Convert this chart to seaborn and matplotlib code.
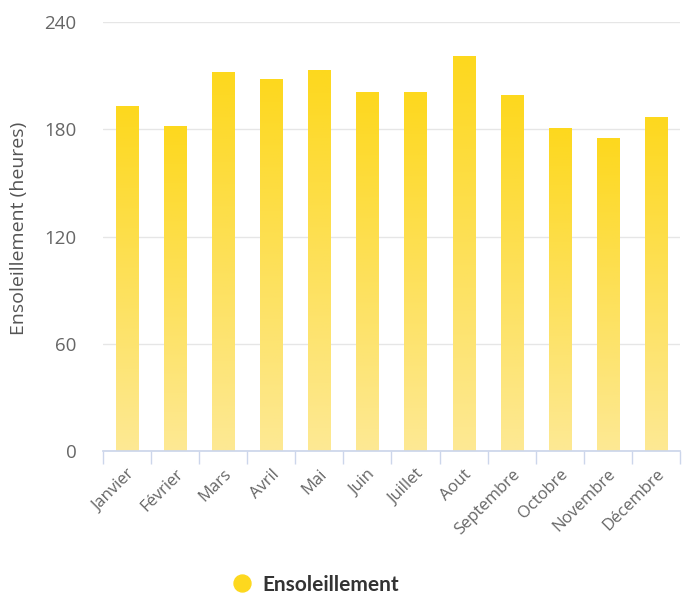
import numpy as np
import pandas as pd
import matplotlib
matplotlib.use("Agg")
import matplotlib.pyplot as plt
from matplotlib.lines import Line2D
from matplotlib.colors import LinearSegmentedColormap
import seaborn as sns

months = ["Janvier", "Février", "Mars", "Avril", "Mai", "Juin", "Juillet",
          "Aout", "Septembre", "Octobre", "Novembre", "Décembre"]
sunshine = [193, 182, 212, 208, 213, 201, 201, 221, 199, 181, 175, 187]
yticks = [0, 60, 120, 180, 240]

df = pd.DataFrame({"Mois": months, "Ensoleillement": sunshine})

sns.set_theme(style="white")
plt.rcParams["font.family"] = ["Open Sans", "DejaVu Sans"]

fig = plt.figure(figsize=(6.82, 5.99), dpi=100)
ax = fig.add_axes([0.151, 0.247, 0.846, 0.716])

sns.barplot(data=df, x="Mois", y="Ensoleillement", ax=ax, color="#FDD81E",
            width=0.46, saturation=1, linewidth=0)

cmap = LinearSegmentedColormap.from_list("sun", ["#FDE994", "#FDD81E"])
grad = np.linspace(0, 1, 256).reshape(-1, 1)
for patch in ax.patches:
    x0, y0 = patch.get_x(), patch.get_y()
    w, h = patch.get_width(), patch.get_height()
    patch.set_facecolor("none")
    im = ax.imshow(grad, cmap=cmap, aspect="auto", origin="lower",
                   extent=[x0, x0 + w, y0, y0 + h], zorder=2)
    im.set_clip_path(patch)

ax.set_xlim(-0.5, len(months) - 0.5)
ax.set_ylim(0, 240)
ax.set_yticks(yticks)
ax.yaxis.grid(True, color="#e6e6e6", linewidth=1)
ax.set_axisbelow(True)
for s in ["top", "right", "left"]:
    ax.spines[s].set_visible(False)
ax.spines["bottom"].set_color("#ccd6eb")

ax.set_xticks(range(len(months)))
ax.set_xticklabels(months, rotation=45, ha="right", rotation_mode="anchor",
                   fontsize=12, color="#666666")
ax.set_xticks(np.arange(-0.5, len(months)), minor=True)
ax.tick_params(axis="x", which="major", length=0, pad=11)
ax.tick_params(axis="x", which="minor", length=9, color="#ccd6eb", width=1,
               bottom=True)
ax.tick_params(axis="y", length=0, labelsize=13.5, labelcolor="#666666", pad=19)

ax.set_xlabel("")
ax.set_ylabel("Ensoleillement (heures)", fontsize=14, color="#555555",
              va="center")
ax.yaxis.set_label_coords(-0.1447, 0.519)

handle = Line2D([], [], marker="o", linestyle="none", markersize=12.2,
                markerfacecolor="#FDD81E", markeredgecolor="#FDD81E")
fig.legend([handle], ["Ensoleillement"], loc="center",
           bbox_to_anchor=(0.455, 0.024), frameon=False,
           prop={"family": "Lato", "weight": "bold", "size": 15},
           labelcolor="#333333", handletextpad=0.0)

fig.savefig("out.png", dpi=100)
